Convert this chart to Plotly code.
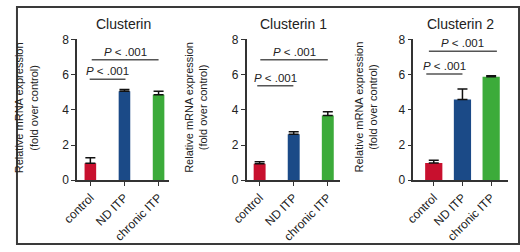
import plotly.graph_objects as go

categories = ["control", "ND ITP", "chronic ITP"]
titles = ["Clusterin", "Clusterin 1", "Clusterin 2"]
means = [
    [0.96, 5.05, 4.86],
    [0.93, 2.61, 3.68],
    [0.98, 4.58, 5.88],
]
errors = [
    [0.31, 0.10, 0.19],
    [0.12, 0.14, 0.21],
    [0.15, 0.60, 0.06],
]
colors = ["#c8102e", "#1b4a87", "#3cab3a"]
# significance brackets per panel: (start, end, height, label)
brackets = [
    [(-0.02, 1.03, 5.73, "<i>P</i> < .001"), (0.04, 2.0, 6.85, "<i>P</i> < .001")],
    [(-0.07, 0.99, 5.37, "<i>P</i> < .001"), (0.02, 2.0, 6.85, "<i>P</i> < .001")],
    [(-0.26, 1.0, 6.03, "<i>P</i> < .001"), (-0.17, 2.2, 7.33, "<i>P</i> < .001")],
]
yticks = [0, 2, 4, 6, 8]
ytitle = "Relative mRNA expression<br>(fold over control)"

W, H = 520, 252
x_domains = [(63 / W, 158 / W), (238 / W, 334 / W), (410 / W, 508 / W)]
x_ranges = [(-0.39, 2.31), (-0.38, 2.35), (-0.71, 2.6)]
bar_widths = [0.34, 0.35, 0.6]
y_domain = (1 - 183.7 / H, 1 - 34.3 / H)
ytitle_x = [23.5 / W, 198.5 / W, 373.5 / W]

font_fam = "Liberation Sans, Arial, sans-serif"
axis_col = "#333333"
text_col = "#222222"

fig = go.Figure()
annotations = []
shapes = []

for i in range(3):
    sfx = "" if i == 0 else str(i + 1)
    xa, ya = "x" + sfx, "y" + sfx
    fig.add_trace(go.Bar(
        x=categories, y=means[i], xaxis=xa, yaxis=ya,
        marker=dict(color=colors, line=dict(width=0)),
        width=bar_widths[i],
        error_y=dict(type="data", symmetric=False, array=errors[i],
                     arrayminus=[0, 0, 0], color="#111111", thickness=1.5, width=5),
        showlegend=False, hoverinfo="skip",
    ))
    common_x = dict(
        domain=list(x_domains[i]), range=list(x_ranges[i]), anchor=ya,
        showline=True, linecolor=axis_col, linewidth=1.5,
        ticks="outside", ticklen=4, tickwidth=1.2, tickcolor=axis_col,
        tickangle=-45, tickfont=dict(family=font_fam, size=12, color=text_col),
        showgrid=False, zeroline=False, fixedrange=True,
    )
    common_y = dict(
        domain=list(y_domain), range=[0, 8.05], anchor=xa,
        showline=True, linecolor=axis_col, linewidth=1.5,
        ticks="outside", ticklen=4, tickwidth=1.2, tickcolor=axis_col,
        tickvals=yticks, tickfont=dict(family=font_fam, size=12, color=text_col),
        showgrid=False, zeroline=False,
    )
    fig.update_layout(**{"xaxis" + sfx: common_x, "yaxis" + sfx: common_y})

    cx = (x_domains[i][0] + x_domains[i][1]) / 2
    annotations.append(dict(
        text=titles[i], xref="paper", yref="paper", x=cx, y=1 - 18.5 / H,
        xanchor="center", yanchor="middle", showarrow=False,
        font=dict(family=font_fam, size=14, color=text_col),
    ))
    annotations.append(dict(
        text=ytitle, xref="paper", yref="paper", x=ytitle_x[i], y=1 - 107 / H,
        xanchor="center", yanchor="middle", showarrow=False, textangle=-90,
        xshift=-12,
        font=dict(family=font_fam, size=11, color=text_col),
    ))
    for (x0, x1, h, lab) in brackets[i]:
        shapes.append(dict(type="line", xref=xa, yref=ya, x0=x0, x1=x1, y0=h, y1=h,
                           line=dict(color="#555555", width=1.5)))
        annotations.append(dict(
            text=lab, xref=xa, yref=ya, x=(x0 + x1) / 2, y=h,
            xanchor="center", yanchor="bottom", yshift=0, showarrow=False,
            font=dict(family=font_fam, size=11.5, color=text_col),
        ))

shapes.append(dict(type="rect", xref="paper", yref="paper", x0=1 / W, x1=1 - 1 / W,
                   y0=1 / H, y1=1 - 1 / H, line=dict(color="#3a3a3a", width=2)))

fig.update_layout(
    width=W, height=H, margin=dict(l=0, r=0, t=0, b=0),
    paper_bgcolor="white", plot_bgcolor="white",
    annotations=annotations, shapes=shapes, bargap=0.3,
)

fig.write_html(
    "out.html",
    config={"displayModeBar": False},
    post_script="document.body.style.margin='0';document.body.style.overflow='hidden';",
)
